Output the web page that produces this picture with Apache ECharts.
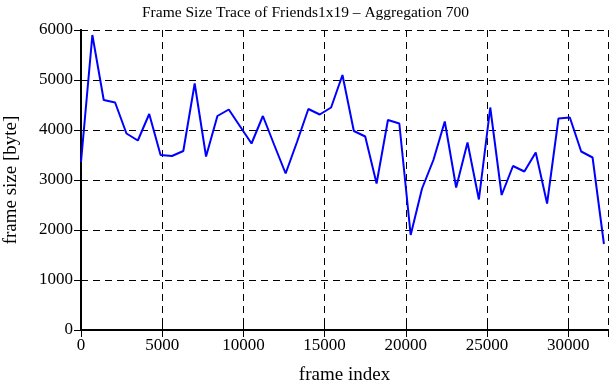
<!DOCTYPE html>
<html>
<head>
<meta charset="utf-8">
<script src="https://cdn.jsdelivr.net/npm/echarts@6/dist/echarts.min.js"></script>
<style>html,body{margin:0;padding:0;background:#fff}#c{width:611px;height:380px}</style>
</head>
<body>
<div id="c"></div>
<script>
const frameIndex = [0,700,1400,2100,2800,3500,4200,4900,5600,6300,7000,7700,8400,9100,9800,10500,11200,11900,12600,13300,14000,14700,15400,16100,16800,17500,18200,18900,19600,20300,21000,21700,22400,23100,23800,24500,25200,25900,26600,27300,28000,28700,29400,30100,30800,31500,32200];
const frameSize = [3360,5900,4600,4550,3930,3790,4320,3500,3480,3580,4930,3470,4280,4410,4070,3730,4280,3700,3130,3760,4420,4310,4450,5100,3980,3870,2930,4200,4130,1900,2830,3400,4170,2850,3750,2610,4450,2700,3280,3170,3550,2530,4230,4250,3570,3450,1720];
const xTicks = [0,5000,10000,15000,20000,25000,30000];
const yTicks = [0,1000,2000,3000,4000,5000,6000];
const titleText = 'Frame Size Trace of Friends1x19 \u2013 Aggregation 700';
const xName = 'frame index';
const yName = 'frame size [byte]';

const font = '"Liberation Serif", "DejaVu Serif", serif';
const chart = echarts.init(document.getElementById('c'), null, {renderer: 'canvas'});
const dashed = {show: true, lineStyle: {color: '#000', width: 1, type: [7, 5]}};
chart.setOption({
  animation: false,
  backgroundColor: '#fff',
  title: {text: titleText, left: 'center', top: 0,
    textStyle: {fontFamily: font, fontSize: 15.5, fontWeight: 'normal', color: '#000'}},
  grid: {left: 81, right: 3, top: 30, bottom: 50, containLabel: false, outerBoundsMode: 'none'},
  xAxis: [{
    type: 'value', min: 0, max: 32450, interval: 5000,
    name: xName, nameLocation: 'middle', nameGap: 36,
    nameTextStyle: {fontFamily: font, fontSize: 19, color: '#000'},
    axisLine: {show: true, onZero: false, lineStyle: {color: '#000', width: 2}},
    axisTick: {show: true, inside: true, length: 7, lineStyle: {color: '#000', width: 1}},
    axisLabel: {fontFamily: font, fontSize: 17, color: '#000', margin: 7, showMaxLabel: false,
      formatter: v => xTicks.includes(v) ? String(v) : ''},
    splitLine: dashed
  }, {
    type: 'value', position: 'top', min: 0, max: 32450, interval: 5000,
    axisLine: {show: true, lineStyle: {color: '#000', width: 2}},
    axisTick: {show: true, inside: true, length: 7, lineStyle: {color: '#000', width: 1}},
    axisLabel: {show: false}, splitLine: {show: false}
  }],
  yAxis: [{
    type: 'value', min: 0, max: 6000, interval: 1000,
    name: yName, nameLocation: 'middle', nameGap: 60,
    nameTextStyle: {fontFamily: font, fontSize: 19, color: '#000'},
    axisLine: {show: true, lineStyle: {color: '#000', width: 2}},
    axisTick: {show: true, inside: true, length: 7, lineStyle: {color: '#000', width: 1}},
    axisLabel: {fontFamily: font, fontSize: 17, color: '#000', margin: 8,
      formatter: v => yTicks.includes(v) ? String(v) : ''},
    splitLine: dashed
  }, {
    type: 'value', position: 'right', min: 0, max: 6000, interval: 1000,
    axisLine: {show: true, lineStyle: {color: '#000', width: 2}},
    axisTick: {show: true, inside: true, length: 7, lineStyle: {color: '#000', width: 1}},
    axisLabel: {show: false}, splitLine: {show: false}
  }],
  series: [{
    type: 'line', xAxisIndex: 0, yAxisIndex: 0,
    data: frameIndex.map((x, i) => [x, frameSize[i]]),
    showSymbol: false, symbol: 'none',
    lineStyle: {color: '#0000ff', width: 2}
  }]
});
</script>
</body>
</html>
